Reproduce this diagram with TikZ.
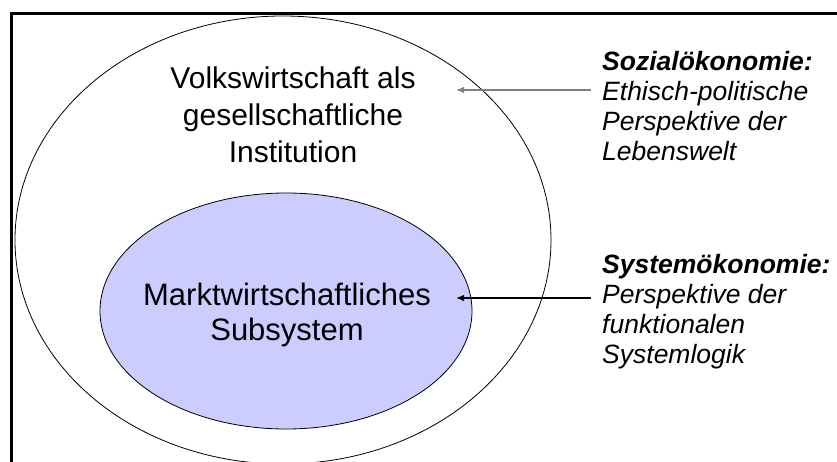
\documentclass[tikz,border=0pt]{standalone}
\usepackage{fontspec}
\setmainfont{Liberation Sans}
\usetikzlibrary{arrows.meta,shapes.geometric}
\definecolor{lav}{HTML}{CCCCFF}
\definecolor{arrgray}{HTML}{808080}
\tikzset{
  ring/.style={draw=black, line width=0.8pt},
  bigtext/.style={align=center, inner sep=0pt, font=\fontsize{30}{37}\selectfont},
  sidetext/.style={align=left, anchor=west, inner sep=0pt, font=\fontsize{26.5}{30}\selectfont\itshape},
  pointer/.style={line width=1.3pt, -{Latex[length=8pt,width=6.5pt]}},
  frameline/.style={line width=3pt, line cap=butt}
}
\begin{document}
\begin{tikzpicture}[x=1pt, y=-1pt]
\useasboundingbox (0,0) rectangle (837,462);
\fill[white] (0,0) rectangle (837,462);
% frame
\draw[frameline] (11,462) -- (11,14) -- (837,14);
% ellipses
\node[ring, ellipse, minimum width=536pt, minimum height=448pt, inner sep=0pt] (outer) at (283,240) {};
\node[ring, fill=lav, ellipse, minimum width=372pt, minimum height=236pt, inner sep=0pt] (inner) at (286,311) {};
% texts
\node[bigtext] (vw) at (293,115) {Volkswirtschaft als\\gesellschaftliche\\Institution};
\node[bigtext, font=\fontsize{31}{35}\selectfont] (mw) at (287,315) {Marktwirtschaftliches\\Subsystem};
\node[sidetext] (soz) at (602,106) {\textbf{Sozialökonomie:}\\Ethisch-politische\\Perspektive der\\Lebenswelt};
\node[sidetext] (sys) at (602,312) {\textbf{Systemökonomie:}\\Perspektive der\\funktionalen\\Systemlogik};
% arrows
\coordinate (s1) at (591,90);
\coordinate (e1) at (456,90);
\coordinate (s2) at (591,298);
\coordinate (e2) at (456,298);
\draw[pointer, arrgray] (s1) -- (e1);
\draw[pointer, black] (s2) -- (e2);
\end{tikzpicture}
\end{document}
